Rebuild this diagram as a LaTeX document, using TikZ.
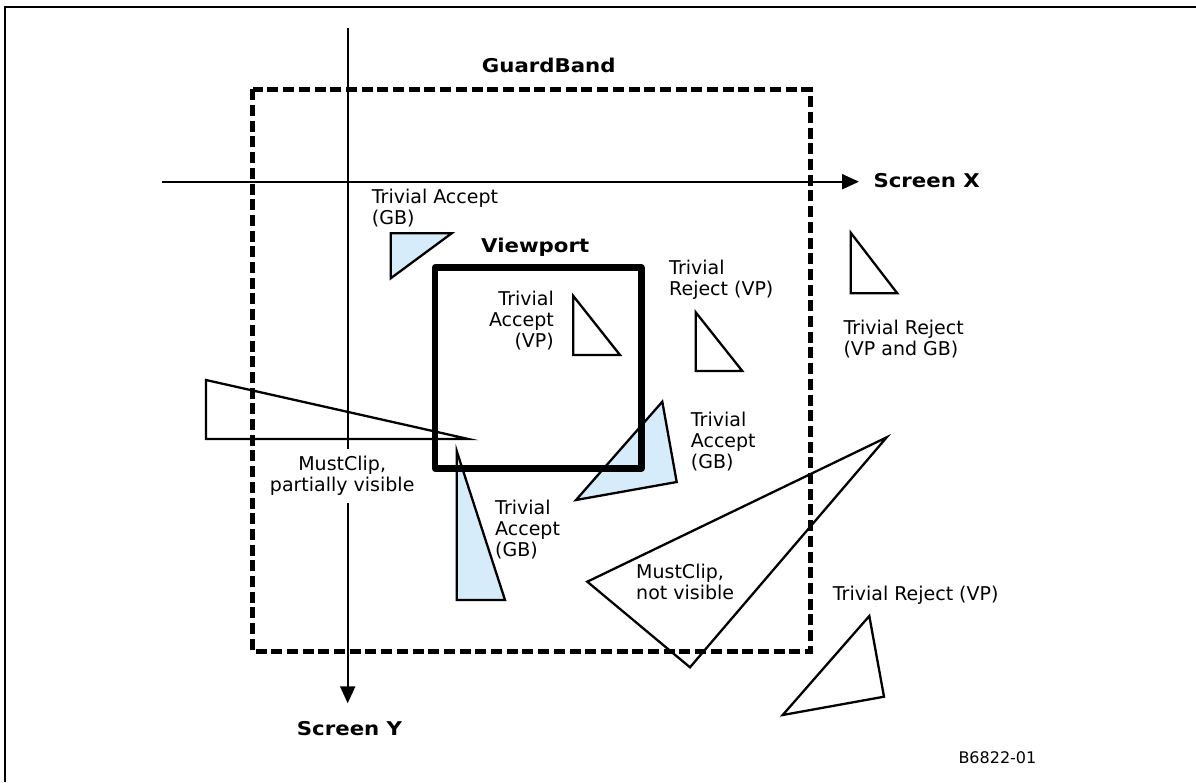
\documentclass[tikz,border=0pt]{standalone}
\usepackage{fontspec}
\setmainfont{DejaVu Sans}[BoldFeatures={FakeStretch=1.12}]
\usetikzlibrary{arrows.meta}
\definecolor{acceptblue}{RGB}{214,236,250}
\begin{document}
\begin{tikzpicture}[x=1pt,y=-1pt,
  lbl/.style={inner sep=0pt, font=\fontsize{19}{21}\selectfont, align=left},
  ttl/.style={inner sep=0pt, font=\fontsize{19}{21}\selectfont\bfseries},
  axis/.style={line width=2pt, -{Triangle[length=17pt,width=15pt]}},
  tri/.style={line width=2.3pt, line join=miter},
  acc/.style={tri, fill=acceptblue},
  guard/.style={line width=5pt, dash pattern=on 11pt off 4.7pt},
  vport/.style={line width=6.5pt, line join=round},
  frame/.style={line width=2pt}]
\useasboundingbox (0,0) rectangle (1196,782);

% outer frame (top and left edges)
\coordinate (fbl) at (5,782);
\coordinate (ftl) at (5,7.3);
\coordinate (ftr) at (1196,7.3);
\draw[frame] (fbl) -- (ftl) -- (ftr);

% guard band
\draw[guard] (252.7,89.3) rectangle (810,651.7);

% screen axes
\coordinate (xstart) at (161.7,181.7);
\coordinate (xend) at (859,181.7);
\coordinate (ystart) at (347.7,28);
\coordinate (yend) at (347.7,703.3);
\draw[axis] (xstart) -- (xend);
\draw[axis] (ystart) -- (yend);

% triangles that are trivially accepted by the guard band
\draw[acc] (390.7,233.3) -- (451.7,233.3) -- (390.7,278.3) -- cycle;
\draw[acc] (662.3,401.7) -- (676.7,482) -- (576,500) -- cycle;
\draw[acc] (456.7,451) -- (456.7,600) -- (505,600) -- cycle;

% viewport
\draw[vport] (435,267.7) rectangle (641.3,468.3);

% remaining triangles
\draw[tri] (573.3,296) -- (573.3,355) -- (620,355) -- cycle;
\draw[tri] (695.7,312.3) -- (695.7,371) -- (742.3,371) -- cycle;
\draw[tri] (850.7,232.7) -- (850.7,293.3) -- (897.3,293.3) -- cycle;
\draw[tri] (206,380) -- (206,439) -- (468.3,439) -- cycle;
\draw[tri] (886.7,437.3) -- (587.3,581.7) -- (690,667.3) -- cycle;
\draw[tri] (869.3,616) -- (884,696.7) -- (782.7,715) -- cycle;

% titles
\node[ttl, anchor=base west] (gb) at (481.7,72.7) {GuardBand};
\node[ttl, anchor=base west] (vp) at (481,252.3) {Viewport};
\node[ttl, anchor=base west] (sx) at (873.3,187.7) {Screen X};
\node[ttl, anchor=base west] (sy) at (296.7,735) {Screen Y};

% labels (anchored at the baseline of their last line)
\node[lbl, anchor=base west] (tagb1) at (371.7,224.3) {Trivial Accept\\(GB)};
\node[lbl, anchor=base east, align=right] (tavp) at (554,347) {Trivial\\Accept\\(VP)};
\node[lbl, anchor=base west] (trvp1) at (669,295.7) {Trivial\\Reject (VP)};
\node[lbl, anchor=base west] (trboth) at (843.3,355) {Trivial Reject\\(VP and GB)};
\node[lbl, anchor=base west] (tagb2) at (690.7,468.3) {Trivial\\Accept\\(GB)};
\node[lbl, anchor=base, align=center, fill=white, inner xsep=3pt, inner ysep=7pt] (mcpv) at (342.2,491.7) {MustClip,\\partially visible};
\node[lbl, anchor=base west] (tagb3) at (495,556) {Trivial\\Accept\\(GB)};
\node[lbl, anchor=base west] (mcnv) at (636,599) {MustClip,\\not visible};
\node[lbl, anchor=base west] (trvp2) at (832.7,600) {Trivial Reject (VP)};
\node[inner sep=0pt, font=\fontsize{16}{18}\selectfont, anchor=base west] (fig) at (958.3,763.3) {B6822-01};
\end{tikzpicture}
\end{document}
